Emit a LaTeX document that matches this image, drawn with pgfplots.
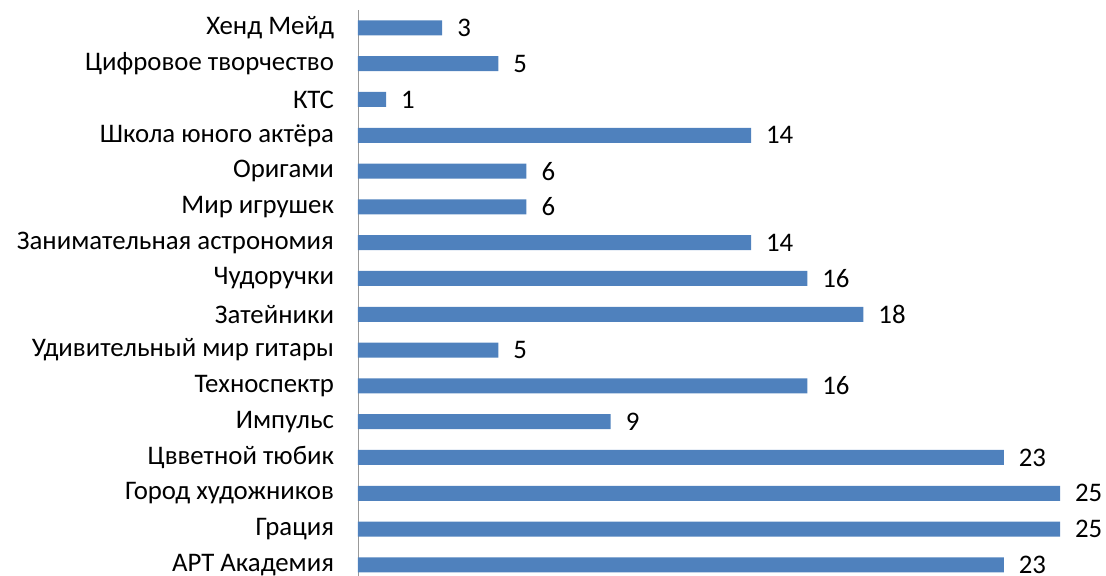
\documentclass[border=0pt]{standalone}
\usepackage{pgfplots}
\pgfplotsset{compat=1.18}
\usepackage{fontspec}
\setmainfont{Carlito}
\definecolor{barblue}{HTML}{4F81BD}
\begin{document}
\begin{tikzpicture}
\begin{axis}[
  name=ax,
  scale only axis,
  width=351bp, height=283bp,
  xbar, bar width=7.5bp,
  xmin=0, xmax=25,
  ymin=-0.31, ymax=15.5,
  axis x line=none,
  axis y line=left,
  axis line style={-, draw=gray!80},
  ytick={0,...,15},
  major tick length=0pt,
  /pgf/number format/assume math mode=true,
  yticklabels={АРТ Академия, Грация, Город художников, Цвветной тюбик, Импульс, Техноспектр, Удивительный мир гитары, Затейники, Чудоручки, Занимательная астрономия\ , Мир игрушек, Оригами, Школа юного актёра, КТС, Цифровое творчество, Хенд Мейд},
  yticklabel style={font=\fontsize{13.4bp}{15bp}\selectfont, xshift=-8.5bp},
  nodes near coords,
  nodes near coords style={font=\fontsize{13.4bp}{15bp}\selectfont, xshift=4bp, /pgf/number format/assume math mode=true},
  clip=false,
]
\addplot[fill=barblue, draw=none] coordinates {
(23,0) (25,1) (25,2) (23,3) (9,4) (16,5) (5,6) (18,7) (16,8) (14,9) (6,10) (6,11) (14,12) (1,13) (5,14) (3,15)
};
\end{axis}
\pgfresetboundingbox
\useasboundingbox ([xshift=-179bp]ax.south west) rectangle ([xshift=374bp, yshift=288bp]ax.south west);
\end{tikzpicture}
\end{document}
